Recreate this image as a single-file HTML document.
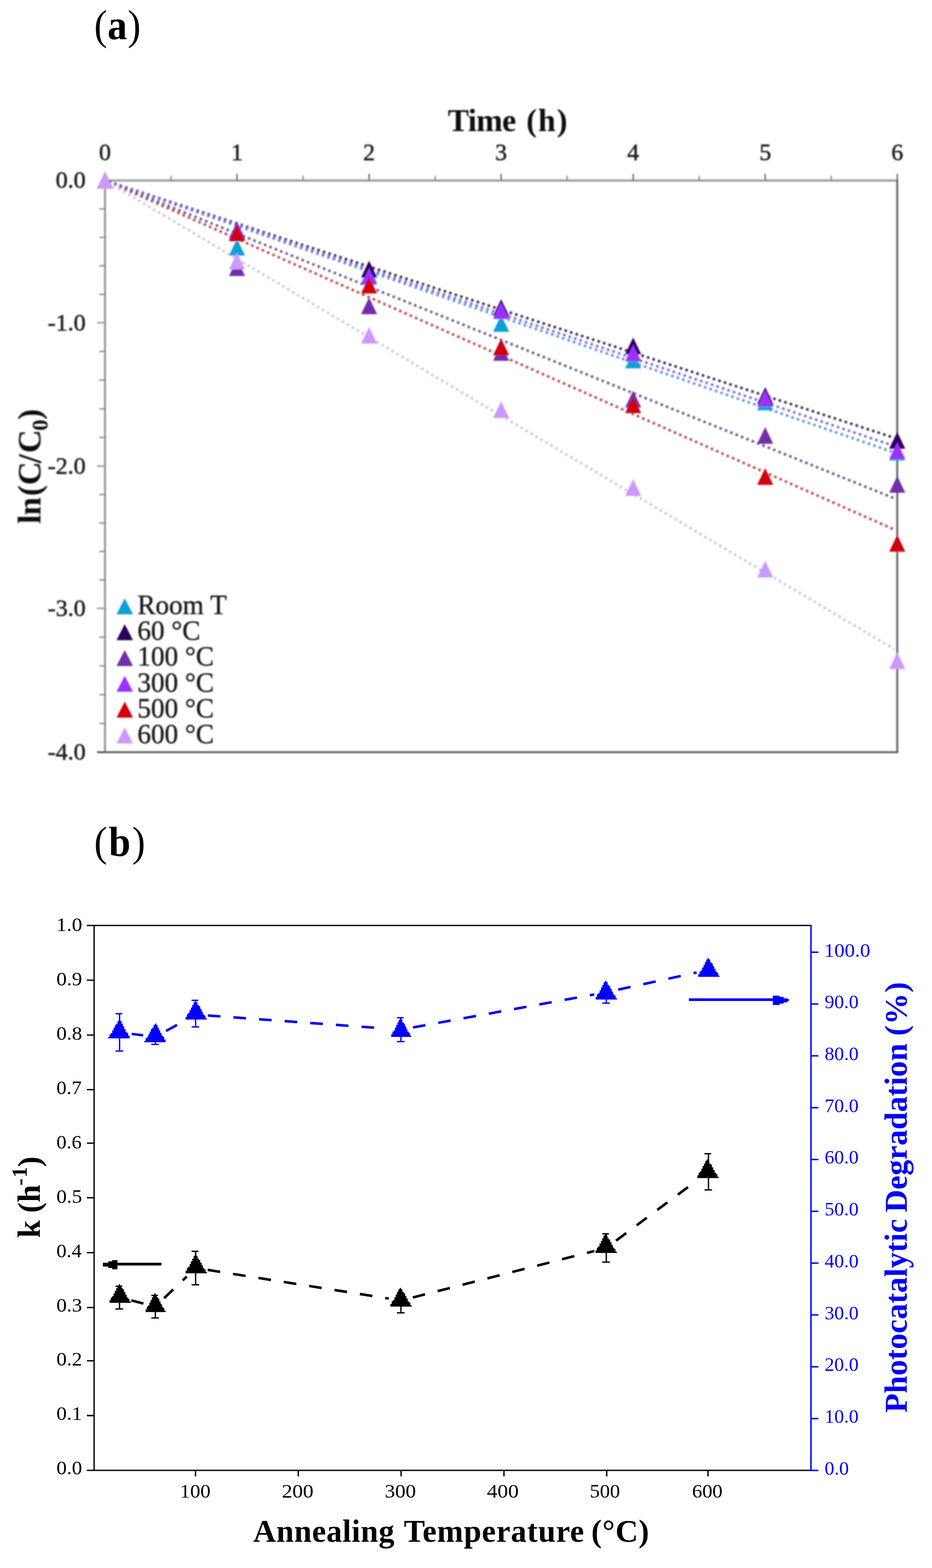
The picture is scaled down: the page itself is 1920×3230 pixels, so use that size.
<!DOCTYPE html>
<html lang="en">
<head>
<meta charset="utf-8">
<title>Figure: photocatalytic kinetics</title>
<style>
html,body{margin:0;padding:0;background:#fff}
body{width:1920px;height:3230px;overflow:hidden}
svg{display:block}
text{font-family:"Liberation Serif","DejaVu Serif",serif}
</style>
</head>
<body>
<svg width="1920" height="3230" viewBox="0 0 1920 3230" role="img" aria-label="Photocatalytic kinetics figure">
<defs>
<filter id="bl" x="0" y="0" width="1920" height="1660" filterUnits="userSpaceOnUse"><feGaussianBlur stdDeviation="1.8"/></filter>
</defs>
<rect x="0" y="0" width="1920" height="3230" fill="#fff"/>
<g id="chart-a" filter="url(#bl)">
<g fill="none">
<line x1="214.3" y1="371.9" x2="1850.4" y2="371.9" stroke="#a0a0a0" stroke-width="4.8"/>
<line x1="216.3" y1="371.7" x2="216.3" y2="1549.5" stroke="#8c8c8c" stroke-width="3.8"/>
<line x1="1848.4" y1="371.7" x2="1848.4" y2="1549.5" stroke="#616161" stroke-width="4"/>
<line x1="200" y1="1549.5" x2="1850.4" y2="1549.5" stroke="#474747" stroke-width="3.6"/>
<line x1="216.3" y1="358" x2="216.3" y2="371.7" stroke="#5c5c5c" stroke-width="2.6"/>
<line x1="352.31" y1="362" x2="352.31" y2="371.7" stroke="#6e6e6e" stroke-width="2.2"/>
<line x1="488.32" y1="358" x2="488.32" y2="371.7" stroke="#5c5c5c" stroke-width="2.6"/>
<line x1="624.33" y1="362" x2="624.33" y2="371.7" stroke="#6e6e6e" stroke-width="2.2"/>
<line x1="760.33" y1="358" x2="760.33" y2="371.7" stroke="#5c5c5c" stroke-width="2.6"/>
<line x1="896.34" y1="362" x2="896.34" y2="371.7" stroke="#6e6e6e" stroke-width="2.2"/>
<line x1="1032.35" y1="358" x2="1032.35" y2="371.7" stroke="#5c5c5c" stroke-width="2.6"/>
<line x1="1168.36" y1="362" x2="1168.36" y2="371.7" stroke="#6e6e6e" stroke-width="2.2"/>
<line x1="1304.37" y1="358" x2="1304.37" y2="371.7" stroke="#5c5c5c" stroke-width="2.6"/>
<line x1="1440.38" y1="362" x2="1440.38" y2="371.7" stroke="#6e6e6e" stroke-width="2.2"/>
<line x1="1576.38" y1="358" x2="1576.38" y2="371.7" stroke="#5c5c5c" stroke-width="2.6"/>
<line x1="1712.39" y1="362" x2="1712.39" y2="371.7" stroke="#6e6e6e" stroke-width="2.2"/>
<line x1="1848.4" y1="358" x2="1848.4" y2="371.7" stroke="#5c5c5c" stroke-width="2.6"/>
<line x1="204.5" y1="430.34" x2="216.3" y2="430.34" stroke="#808080" stroke-width="2.6"/>
<line x1="204.5" y1="488.98" x2="216.3" y2="488.98" stroke="#808080" stroke-width="2.6"/>
<line x1="204.5" y1="547.62" x2="216.3" y2="547.62" stroke="#808080" stroke-width="2.6"/>
<line x1="204.5" y1="606.26" x2="216.3" y2="606.26" stroke="#808080" stroke-width="2.6"/>
<line x1="200" y1="664.9" x2="216.3" y2="664.9" stroke="#999" stroke-width="3.2"/>
<line x1="204.5" y1="723.94" x2="216.3" y2="723.94" stroke="#808080" stroke-width="2.6"/>
<line x1="204.5" y1="782.98" x2="216.3" y2="782.98" stroke="#808080" stroke-width="2.6"/>
<line x1="204.5" y1="842.02" x2="216.3" y2="842.02" stroke="#808080" stroke-width="2.6"/>
<line x1="204.5" y1="901.06" x2="216.3" y2="901.06" stroke="#808080" stroke-width="2.6"/>
<line x1="200" y1="960.1" x2="216.3" y2="960.1" stroke="#999" stroke-width="3.2"/>
<line x1="204.5" y1="1018.72" x2="216.3" y2="1018.72" stroke="#808080" stroke-width="2.6"/>
<line x1="204.5" y1="1077.34" x2="216.3" y2="1077.34" stroke="#808080" stroke-width="2.6"/>
<line x1="204.5" y1="1135.96" x2="216.3" y2="1135.96" stroke="#808080" stroke-width="2.6"/>
<line x1="204.5" y1="1194.58" x2="216.3" y2="1194.58" stroke="#808080" stroke-width="2.6"/>
<line x1="200" y1="1253.2" x2="216.3" y2="1253.2" stroke="#999" stroke-width="3.2"/>
<line x1="204.5" y1="1312.46" x2="216.3" y2="1312.46" stroke="#808080" stroke-width="2.6"/>
<line x1="204.5" y1="1371.72" x2="216.3" y2="1371.72" stroke="#808080" stroke-width="2.6"/>
<line x1="204.5" y1="1430.98" x2="216.3" y2="1430.98" stroke="#808080" stroke-width="2.6"/>
<line x1="204.5" y1="1490.24" x2="216.3" y2="1490.24" stroke="#808080" stroke-width="2.6"/>
</g>
<line x1="216.3" y1="371.7" x2="1842" y2="932.01" stroke="#5a98dc" stroke-width="5.3" stroke-dasharray="5.3 6.6" stroke-dashoffset="-8" fill="none"/>
<line x1="216.3" y1="371.7" x2="1842" y2="901.74" stroke="#3a3248" stroke-width="5.3" stroke-dasharray="5.3 6.6" stroke-dashoffset="-8" fill="none"/>
<line x1="216.3" y1="371.7" x2="1842" y2="918.64" stroke="#8668e4" stroke-width="5.3" stroke-dasharray="5.3 6.6" stroke-dashoffset="-8" fill="none"/>
<line x1="216.3" y1="371.7" x2="1842" y2="1090.74" stroke="#c44a48" stroke-width="5.3" stroke-dasharray="5.3 6.6" stroke-dashoffset="-8" fill="none"/>
<line x1="216.3" y1="371.7" x2="1842" y2="1026.34" stroke="#6e5c92" stroke-width="5.3" stroke-dasharray="5.3 6.6" stroke-dashoffset="-8" fill="none"/>
<line x1="216.3" y1="371.7" x2="1842" y2="1337.11" stroke="#d0c6e8" stroke-width="5.3" stroke-dasharray="5.3 6.6" stroke-dashoffset="-8" fill="none"/>
<polygon points="216.3,354.45 232.8,388.95 199.8,388.95" fill="#0d9fd8"/>
<polygon points="488.32,491.96 504.82,526.46 471.82,526.46" fill="#0d9fd8"/>
<polygon points="760.33,548.79 776.83,583.29 743.83,583.29" fill="#0d9fd8"/>
<polygon points="1032.35,648.9 1048.85,683.4 1015.85,683.4" fill="#0d9fd8"/>
<polygon points="1304.37,724.28 1320.87,758.78 1287.87,758.78" fill="#0d9fd8"/>
<polygon points="1576.38,810.85 1592.88,845.35 1559.88,845.35" fill="#0d9fd8"/>
<polygon points="1848.4,913.9 1864.9,948.4 1831.9,948.4" fill="#0d9fd8"/>
<polygon points="216.3,354.45 232.8,388.95 199.8,388.95" fill="#2a005c"/>
<polygon points="488.32,456.92 504.82,491.42 471.82,491.42" fill="#2a005c"/>
<polygon points="760.33,537.01 776.83,571.51 743.83,571.51" fill="#2a005c"/>
<polygon points="1032.35,616.22 1048.85,650.72 1015.85,650.72" fill="#2a005c"/>
<polygon points="1304.37,695.13 1320.87,729.63 1287.87,729.63" fill="#2a005c"/>
<polygon points="1576.38,797.6 1592.88,832.1 1559.88,832.1" fill="#2a005c"/>
<polygon points="1848.4,889.76 1864.9,924.26 1831.9,924.26" fill="#2a005c"/>
<polygon points="216.3,354.45 232.8,388.95 199.8,388.95" fill="#6f2da8"/>
<polygon points="488.32,534.06 504.82,568.56 471.82,568.56" fill="#6f2da8"/>
<polygon points="760.33,612.68 776.83,647.18 743.83,647.18" fill="#6f2da8"/>
<polygon points="1032.35,708.67 1048.85,743.17 1015.85,743.17" fill="#6f2da8"/>
<polygon points="1304.37,804.96 1320.87,839.46 1287.87,839.46" fill="#6f2da8"/>
<polygon points="1576.38,879.75 1592.88,914.25 1559.88,914.25" fill="#6f2da8"/>
<polygon points="1848.4,980.45 1864.9,1014.95 1831.9,1014.95" fill="#6f2da8"/>
<polygon points="216.3,354.45 232.8,388.95 199.8,388.95" fill="#9a33ff"/>
<polygon points="488.32,458.98 504.82,493.48 471.82,493.48" fill="#9a33ff"/>
<polygon points="760.33,551.73 776.83,586.23 743.83,586.23" fill="#9a33ff"/>
<polygon points="1032.35,622.4 1048.85,656.9 1015.85,656.9" fill="#9a33ff"/>
<polygon points="1304.37,709.85 1320.87,744.35 1287.87,744.35" fill="#9a33ff"/>
<polygon points="1576.38,803.19 1592.88,837.69 1559.88,837.69" fill="#9a33ff"/>
<polygon points="1848.4,910.96 1864.9,945.46 1831.9,945.46" fill="#9a33ff"/>
<polygon points="216.3,354.45 232.8,388.95 199.8,388.95" fill="#d0000c"/>
<polygon points="488.32,462.51 504.82,497.01 471.82,497.01" fill="#d0000c"/>
<polygon points="760.33,569.99 776.83,604.49 743.83,604.49" fill="#d0000c"/>
<polygon points="1032.35,697.48 1048.85,731.98 1015.85,731.98" fill="#d0000c"/>
<polygon points="1304.37,816.44 1320.87,850.94 1287.87,850.94" fill="#d0000c"/>
<polygon points="1576.38,964.26 1592.88,998.76 1559.88,998.76" fill="#d0000c"/>
<polygon points="1848.4,1102.06 1864.9,1136.56 1831.9,1136.56" fill="#d0000c"/>
<polygon points="216.3,354.45 232.8,388.95 199.8,388.95" fill="#cc99ff"/>
<polygon points="488.32,520.52 504.82,555.02 471.82,555.02" fill="#cc99ff"/>
<polygon points="760.33,673.34 776.83,707.84 743.83,707.84" fill="#cc99ff"/>
<polygon points="1032.35,826.45 1048.85,860.95 1015.85,860.95" fill="#cc99ff"/>
<polygon points="1304.37,986.93 1320.87,1021.43 1287.87,1021.43" fill="#cc99ff"/>
<polygon points="1576.38,1155.06 1592.88,1189.56 1559.88,1189.56" fill="#cc99ff"/>
<polygon points="1848.4,1343.8 1864.9,1378.3 1831.9,1378.3" fill="#cc99ff"/>
<polygon points="257,1232.5 274,1265.5 240,1265.5" fill="#0d9fd8"/>
<text x="283" y="1265" font-size="56" fill="#161616" stroke="#161616" stroke-width="0.6">Room T</text>
<polygon points="257,1285.7 274,1318.7 240,1318.7" fill="#2a005c"/>
<text x="283" y="1318.2" font-size="56" fill="#161616" stroke="#161616" stroke-width="0.6">60 °C</text>
<polygon points="257,1338.9 274,1371.9 240,1371.9" fill="#6f2da8"/>
<text x="283" y="1371.4" font-size="56" fill="#161616" stroke="#161616" stroke-width="0.6">100 °C</text>
<polygon points="257,1392.1 274,1425.1 240,1425.1" fill="#9a33ff"/>
<text x="283" y="1424.6" font-size="56" fill="#161616" stroke="#161616" stroke-width="0.6">300 °C</text>
<polygon points="257,1445.3 274,1478.3 240,1478.3" fill="#d0000c"/>
<text x="283" y="1477.8" font-size="56" fill="#161616" stroke="#161616" stroke-width="0.6">500 °C</text>
<polygon points="257,1498.5 274,1531.5 240,1531.5" fill="#cc99ff"/>
<text x="283" y="1531" font-size="56" fill="#161616" stroke="#161616" stroke-width="0.6">600 °C</text>
<text x="216.3" y="329.8" font-size="49" text-anchor="middle" fill="#1e1e1e" stroke="#1e1e1e" stroke-width="0.9">0</text>
<text x="488.32" y="329.8" font-size="49" text-anchor="middle" fill="#1e1e1e" stroke="#1e1e1e" stroke-width="0.9">1</text>
<text x="760.33" y="329.8" font-size="49" text-anchor="middle" fill="#1e1e1e" stroke="#1e1e1e" stroke-width="0.9">2</text>
<text x="1032.35" y="329.8" font-size="49" text-anchor="middle" fill="#1e1e1e" stroke="#1e1e1e" stroke-width="0.9">3</text>
<text x="1304.37" y="329.8" font-size="49" text-anchor="middle" fill="#1e1e1e" stroke="#1e1e1e" stroke-width="0.9">4</text>
<text x="1576.38" y="329.8" font-size="49" text-anchor="middle" fill="#1e1e1e" stroke="#1e1e1e" stroke-width="0.9">5</text>
<text x="1848.4" y="329.8" font-size="49" text-anchor="middle" fill="#1e1e1e" stroke="#1e1e1e" stroke-width="0.9">6</text>
<text x="176.6" y="387.3" font-size="49.5" text-anchor="end" fill="#1e1e1e" stroke="#1e1e1e" stroke-width="0.9">0.0</text>
<text x="176.6" y="680.5" font-size="49.5" text-anchor="end" fill="#1e1e1e" stroke="#1e1e1e" stroke-width="0.9">-1.0</text>
<text x="176.6" y="975.7" font-size="49.5" text-anchor="end" fill="#1e1e1e" stroke="#1e1e1e" stroke-width="0.9">-2.0</text>
<text x="176.6" y="1268.8" font-size="49.5" text-anchor="end" fill="#1e1e1e" stroke="#1e1e1e" stroke-width="0.9">-3.0</text>
<text x="176.6" y="1565.1" font-size="49.5" text-anchor="end" fill="#1e1e1e" stroke="#1e1e1e" stroke-width="0.9">-4.0</text>
<text transform="translate(923.5 270)" font-size="65" font-weight="bold" fill="#111"><tspan x="-1" letter-spacing="-0.8">Time</tspan> <tspan x="160.8" letter-spacing="2.55">(h)</tspan></text>
<text transform="translate(83.3 1078) rotate(-90)" font-size="67" font-weight="bold" fill="#111"><tspan x="-1" letter-spacing="-1">ln</tspan><tspan x="56.2">(</tspan><tspan x="78.7">C</tspan><tspan x="123.7">/</tspan><tspan x="144.65">C</tspan><tspan x="190.85" font-size="46" dy="14.5">0</tspan><tspan x="213.25" dy="-14.5">)</tspan></text>
</g>
<text transform="translate(197.6 80.9) scale(0.9300 1)" font-size="87" fill="#000"><tspan x="-3.92">(</tspan><tspan x="25.78" font-weight="bold">a</tspan><tspan x="70.41">)</tspan></text>
<text transform="translate(198 1763.3) scale(0.9300 1)" font-size="87" fill="#000"><tspan x="-4.35">(</tspan><tspan x="27.86" font-weight="bold">b</tspan><tspan x="79.92">)</tspan></text>
<g id="chart-b">
<g stroke="#000" stroke-width="2.8" fill="none">
<path d="M179 1906.4H1670.7"/>
<path d="M193.9 1906.4V3028.9"/>
<path d="M179 3028.9H1670.7"/>
<path d="M179 2916H193.9M179 2803.2H193.9M179 2693.3H193.9M179 2580.4H193.9M179 2467.4H193.9M179 2354.8H193.9M179 2244.7H193.9M179 2132.05H193.9M179 2019.1H193.9M402.8 3028.9V3041.2M614.5 3028.9V3041.2M826.3 3028.9V3041.2M1038.2 3028.9V3041.2M1249.9 3028.9V3041.2M1458.6 3028.9V3041.2"/>
</g>
<g stroke="#0000ff" stroke-width="3" fill="none">
<path d="M1670.7 1905V3030.3M1670.7 3028.9H1686M1670.7 2922.16H1686M1670.7 2815.42H1686M1670.7 2708.68H1686M1670.7 2601.94H1686M1670.7 2495.2H1686M1670.7 2388.46H1686M1670.7 2281.72H1686M1670.7 2174.98H1686M1670.7 2068.24H1686M1670.7 1961.5H1686"/>
</g>
<path d="M271.29 2129.72L294.91 2132.77" stroke="#0000ff" stroke-width="5.2" fill="none"/>
<path d="M342.04 2123.78L364.78 2111.18" stroke="#0000ff" stroke-width="5.2" fill="none"/>
<path d="M428.13 2091.84L454.06 2093.74M480.89 2095.71L506.82 2097.61M533.65 2099.57L559.58 2101.48M586.41 2103.44L612.34 2105.34M639.17 2107.31L665.1 2109.21M691.93 2111.17L717.86 2113.07M744.68 2115.04L770.61 2116.94" stroke="#0000ff" stroke-width="5.2" fill="none"/>
<path d="M850.79 2116.49L876.37 2111.83M902.84 2107.01L928.42 2102.36M954.88 2097.54L980.46 2092.88M1006.93 2088.07L1032.51 2083.41M1058.97 2078.59L1084.55 2073.94M1111.02 2069.12L1136.6 2064.46M1163.06 2059.64L1188.64 2054.99M1215.11 2050.17L1224.11 2048.53" stroke="#0000ff" stroke-width="5.2" fill="none"/>
<path d="M1273.62 2038.63L1299.02 2033.08M1325.3 2027.35L1350.71 2021.81M1376.99 2016.07L1402.39 2010.53M1428.67 2004.79L1435.08 2003.39" stroke="#0000ff" stroke-width="5.2" fill="none"/>
<path d="M246.3 2088.2V2165M238 2088.2H251.9M238 2165H253.7" stroke="#0000ff" stroke-width="2.75" fill="none"/>
<polygon points="247.64,2100.5 247.64,2103.24 250.39,2103.24 250.39,2105.99 250.39,2105.99 250.39,2108.73 253.13,2108.73 253.13,2111.47 253.13,2111.47 253.13,2114.21 255.87,2114.21 255.87,2116.96 255.87,2116.96 255.87,2119.7 258.61,2119.7 258.61,2122.44 258.61,2122.44 258.61,2125.19 261.36,2125.19 261.36,2127.93 264.1,2127.93 264.1,2130.67 264.1,2130.67 264.1,2133.41 266.84,2133.41 266.84,2136.16 266.84,2136.16 266.84,2138.9 222.96,2138.9 222.96,2136.16 225.7,2136.16 225.7,2133.41 225.7,2133.41 225.7,2130.67 228.44,2130.67 228.44,2127.93 231.19,2127.93 231.19,2125.19 231.19,2125.19 231.19,2122.44 233.93,2122.44 233.93,2119.7 233.93,2119.7 233.93,2116.96 236.67,2116.96 236.67,2114.21 236.67,2114.21 236.67,2111.47 239.41,2111.47 239.41,2108.73 242.16,2108.73 242.16,2105.99 242.16,2105.99 242.16,2103.24 244.9,2103.24 244.9,2100.5" fill="#0000ff"/>
<path d="M320 2127V2151.4M311.7 2151.4H327.4" stroke="#0000ff" stroke-width="2.75" fill="none"/>
<polygon points="321.89,2108.6 321.89,2111.34 324.64,2111.34 324.64,2114.09 324.64,2114.09 324.64,2116.83 327.38,2116.83 327.38,2119.57 327.38,2119.57 327.38,2122.31 330.12,2122.31 330.12,2125.06 330.12,2125.06 330.12,2127.8 332.86,2127.8 332.86,2130.54 332.86,2130.54 332.86,2133.29 335.61,2133.29 335.61,2136.03 338.35,2136.03 338.35,2138.77 338.35,2138.77 338.35,2141.51 341.09,2141.51 341.09,2144.26 341.09,2144.26 341.09,2147 297.21,2147 297.21,2144.26 299.95,2144.26 299.95,2141.51 299.95,2141.51 299.95,2138.77 302.69,2138.77 302.69,2136.03 305.44,2136.03 305.44,2133.29 305.44,2133.29 305.44,2130.54 308.18,2130.54 308.18,2127.8 308.18,2127.8 308.18,2125.06 310.92,2125.06 310.92,2122.31 310.92,2122.31 310.92,2119.57 313.66,2119.57 313.66,2116.83 316.41,2116.83 316.41,2114.09 316.41,2114.09 316.41,2111.34 319.15,2111.34 319.15,2108.6" fill="#0000ff"/>
<path d="M403 2060.6V2115.4M394.7 2060.6H408.6M394.7 2115.4H410.4" stroke="#0000ff" stroke-width="2.75" fill="none"/>
<polygon points="404.15,2061.9 404.15,2064.64 406.89,2064.64 406.89,2067.39 406.89,2067.39 406.89,2070.13 409.64,2070.13 409.64,2072.87 412.38,2072.87 412.38,2075.61 412.38,2075.61 412.38,2078.36 415.12,2078.36 415.12,2081.1 415.12,2081.1 415.12,2083.84 417.86,2083.84 417.86,2086.59 417.86,2086.59 417.86,2089.33 420.61,2089.33 420.61,2092.07 423.35,2092.07 423.35,2094.81 423.35,2094.81 423.35,2097.56 426.09,2097.56 426.09,2100.3 382.21,2100.3 382.21,2097.56 382.21,2097.56 382.21,2094.81 384.95,2094.81 384.95,2092.07 384.95,2092.07 384.95,2089.33 387.69,2089.33 387.69,2086.59 390.44,2086.59 390.44,2083.84 390.44,2083.84 390.44,2081.1 393.18,2081.1 393.18,2078.36 393.18,2078.36 393.18,2075.61 395.92,2075.61 395.92,2072.87 395.92,2072.87 395.92,2070.13 398.66,2070.13 398.66,2067.39 398.66,2067.39 398.66,2064.64 401.41,2064.64 401.41,2061.9" fill="#0000ff"/>
<path d="M826 2096.4V2145.7M817.7 2096.4H831.6M817.7 2145.7H833.4" stroke="#0000ff" stroke-width="2.75" fill="none"/>
<polygon points="826.5,2097.7 826.5,2100.44 829.08,2100.44 829.08,2103.19 829.08,2103.19 829.08,2105.93 831.66,2105.93 831.66,2108.67 834.23,2108.67 834.23,2111.41 834.23,2111.41 834.23,2114.16 836.81,2114.16 836.81,2116.9 836.81,2116.9 836.81,2119.64 839.39,2119.64 839.39,2122.39 839.39,2122.39 839.39,2125.13 841.97,2125.13 841.97,2127.87 844.55,2127.87 844.55,2130.61 844.55,2130.61 844.55,2133.36 847.13,2133.36 847.13,2136.1 805.87,2136.1 805.87,2133.36 805.87,2133.36 805.87,2130.61 808.45,2130.61 808.45,2127.87 808.45,2127.87 808.45,2125.13 811.03,2125.13 811.03,2122.39 813.61,2122.39 813.61,2119.64 813.61,2119.64 813.61,2116.9 816.19,2116.9 816.19,2114.16 816.19,2114.16 816.19,2111.41 818.77,2111.41 818.77,2108.67 818.77,2108.67 818.77,2105.93 821.34,2105.93 821.34,2103.19 821.34,2103.19 821.34,2100.44 823.92,2100.44 823.92,2097.7" fill="#0000ff"/>
<path d="M1249 2039V2066.3M1240.7 2066.3H1256.4" stroke="#0000ff" stroke-width="2.75" fill="none"/>
<polygon points="1249.1,2020.6 1249.1,2023.34 1251.84,2023.34 1251.84,2026.09 1251.84,2026.09 1251.84,2028.83 1254.59,2028.83 1254.59,2031.57 1257.33,2031.57 1257.33,2034.31 1257.33,2034.31 1257.33,2037.06 1260.07,2037.06 1260.07,2039.8 1260.07,2039.8 1260.07,2042.54 1262.81,2042.54 1262.81,2045.29 1262.81,2045.29 1262.81,2048.03 1265.56,2048.03 1265.56,2050.77 1268.3,2050.77 1268.3,2053.51 1268.3,2053.51 1268.3,2056.26 1271.04,2056.26 1271.04,2059 1227.16,2059 1227.16,2056.26 1227.16,2056.26 1227.16,2053.51 1229.9,2053.51 1229.9,2050.77 1229.9,2050.77 1229.9,2048.03 1232.64,2048.03 1232.64,2045.29 1235.39,2045.29 1235.39,2042.54 1235.39,2042.54 1235.39,2039.8 1238.13,2039.8 1238.13,2037.06 1238.13,2037.06 1238.13,2034.31 1240.87,2034.31 1240.87,2031.57 1240.87,2031.57 1240.87,2028.83 1243.61,2028.83 1243.61,2026.09 1243.61,2026.09 1243.61,2023.34 1246.36,2023.34 1246.36,2020.6" fill="#0000ff"/>
<polygon points="1460.3,1973.8 1460.3,1976.54 1463.04,1976.54 1463.04,1979.29 1463.04,1979.29 1463.04,1982.03 1465.79,1982.03 1465.79,1984.77 1468.53,1984.77 1468.53,1987.51 1468.53,1987.51 1468.53,1990.26 1471.27,1990.26 1471.27,1993 1471.27,1993 1471.27,1995.74 1474.01,1995.74 1474.01,1998.49 1474.01,1998.49 1474.01,2001.23 1476.76,2001.23 1476.76,2003.97 1479.5,2003.97 1479.5,2006.71 1479.5,2006.71 1479.5,2009.46 1482.24,2009.46 1482.24,2012.2 1438.36,2012.2 1438.36,2009.46 1438.36,2009.46 1438.36,2006.71 1441.1,2006.71 1441.1,2003.97 1441.1,2003.97 1441.1,2001.23 1443.84,2001.23 1443.84,1998.49 1446.59,1998.49 1446.59,1995.74 1446.59,1995.74 1446.59,1993 1449.33,1993 1449.33,1990.26 1449.33,1990.26 1449.33,1987.51 1452.07,1987.51 1452.07,1984.77 1452.07,1984.77 1452.07,1982.03 1454.81,1982.03 1454.81,1979.29 1454.81,1979.29 1454.81,1976.54 1457.56,1976.54 1457.56,1973.8" fill="#0000ff"/>
<path d="M270.58 2678.68L295.52 2685.2" stroke="#000" stroke-width="5.2" fill="none"/>
<path d="M338.19 2674.16L356.95 2656.16M376.37 2637.54L384.74 2629.51" stroke="#000" stroke-width="5.2" fill="none"/>
<path d="M427.89 2615.94L453.57 2620.01M480.14 2624.22L505.82 2628.29M532.39 2632.49L558.07 2636.56M584.64 2640.77L610.32 2644.84M636.88 2649.05L662.56 2653.11M689.13 2657.32L714.81 2661.39M741.38 2665.6L767.06 2669.66M793.63 2673.87L801.01 2675.04" stroke="#000" stroke-width="5.2" fill="none"/>
<path d="M850.41 2672.75L875.6 2666.3M901.66 2659.63L926.85 2653.18M952.91 2646.51L978.09 2640.06M1004.15 2633.39L1029.34 2626.94M1055.4 2620.27L1080.59 2613.82M1106.65 2607.15L1131.84 2600.7M1157.89 2594.03L1183.08 2587.58M1209.14 2580.9L1224.49 2576.98" stroke="#000" stroke-width="5.2" fill="none"/>
<path d="M1269.21 2555.65L1290.06 2540.11M1311.63 2524.04L1332.48 2508.51M1354.06 2492.44L1374.91 2476.91M1396.48 2460.84L1417.33 2445.31" stroke="#000" stroke-width="5.2" fill="none"/>
<path d="M246.2 2649.5V2696.3M237.9 2649.5H251.8M237.9 2696.3H253.6" stroke="#000" stroke-width="2.75" fill="none"/>
<polygon points="247.5,2645.3 247.5,2648.04 250.24,2648.04 250.24,2650.79 250.24,2650.79 250.24,2653.53 252.99,2653.53 252.99,2656.27 255.73,2656.27 255.73,2659.01 255.73,2659.01 255.73,2661.76 258.47,2661.76 258.47,2664.5 258.47,2664.5 258.47,2667.24 261.21,2667.24 261.21,2669.99 261.21,2669.99 261.21,2672.73 263.96,2672.73 263.96,2675.47 266.7,2675.47 266.7,2678.21 266.7,2678.21 266.7,2680.96 269.44,2680.96 269.44,2683.7 225.56,2683.7 225.56,2680.96 225.56,2680.96 225.56,2678.21 228.3,2678.21 228.3,2675.47 228.3,2675.47 228.3,2672.73 231.04,2672.73 231.04,2669.99 233.79,2669.99 233.79,2667.24 233.79,2667.24 233.79,2664.5 236.53,2664.5 236.53,2661.76 236.53,2661.76 236.53,2659.01 239.27,2659.01 239.27,2656.27 239.27,2656.27 239.27,2653.53 242.01,2653.53 242.01,2650.79 242.01,2650.79 242.01,2648.04 244.76,2648.04 244.76,2645.3" fill="#000"/>
<path d="M320 2668.4V2714.9M311.7 2668.4H325.6M311.7 2714.9H327.4" stroke="#000" stroke-width="2.75" fill="none"/>
<polygon points="320.5,2664.3 320.5,2667.04 323.08,2667.04 323.08,2669.79 323.08,2669.79 323.08,2672.53 325.66,2672.53 325.66,2675.27 328.23,2675.27 328.23,2678.01 328.23,2678.01 328.23,2680.76 330.81,2680.76 330.81,2683.5 330.81,2683.5 330.81,2686.24 333.39,2686.24 333.39,2688.99 333.39,2688.99 333.39,2691.73 335.97,2691.73 335.97,2694.47 338.55,2694.47 338.55,2697.21 338.55,2697.21 338.55,2699.96 341.13,2699.96 341.13,2702.7 299.87,2702.7 299.87,2699.96 299.87,2699.96 299.87,2697.21 302.45,2697.21 302.45,2694.47 302.45,2694.47 302.45,2691.73 305.03,2691.73 305.03,2688.99 307.61,2688.99 307.61,2686.24 307.61,2686.24 307.61,2683.5 310.19,2683.5 310.19,2680.76 310.19,2680.76 310.19,2678.01 312.77,2678.01 312.77,2675.27 312.77,2675.27 312.77,2672.53 315.34,2672.53 315.34,2669.79 315.34,2669.79 315.34,2667.04 317.92,2667.04 317.92,2664.3" fill="#000"/>
<path d="M403 2577.6V2646.5M394.7 2577.6H408.6M394.7 2646.5H410.4" stroke="#000" stroke-width="2.75" fill="none"/>
<polygon points="404.3,2584.5 404.3,2587.24 407.04,2587.24 407.04,2589.99 407.04,2589.99 407.04,2592.73 409.79,2592.73 409.79,2595.47 412.53,2595.47 412.53,2598.21 412.53,2598.21 412.53,2600.96 415.27,2600.96 415.27,2603.7 415.27,2603.7 415.27,2606.44 418.01,2606.44 418.01,2609.19 418.01,2609.19 418.01,2611.93 420.76,2611.93 420.76,2614.67 423.5,2614.67 423.5,2617.41 423.5,2617.41 423.5,2620.16 426.24,2620.16 426.24,2622.9 382.36,2622.9 382.36,2620.16 382.36,2620.16 382.36,2617.41 385.1,2617.41 385.1,2614.67 385.1,2614.67 385.1,2611.93 387.84,2611.93 387.84,2609.19 390.59,2609.19 390.59,2606.44 390.59,2606.44 390.59,2603.7 393.33,2603.7 393.33,2600.96 393.33,2600.96 393.33,2598.21 396.07,2598.21 396.07,2595.47 396.07,2595.47 396.07,2592.73 398.81,2592.73 398.81,2589.99 398.81,2589.99 398.81,2587.24 401.56,2587.24 401.56,2584.5" fill="#000"/>
<path d="M826 2671.5V2704.4M817.7 2704.4H833.4" stroke="#000" stroke-width="2.75" fill="none"/>
<polygon points="826.2,2653.1 826.2,2655.84 828.94,2655.84 828.94,2658.59 828.94,2658.59 828.94,2661.33 831.69,2661.33 831.69,2664.07 834.43,2664.07 834.43,2666.81 834.43,2666.81 834.43,2669.56 837.17,2669.56 837.17,2672.3 837.17,2672.3 837.17,2675.04 839.91,2675.04 839.91,2677.79 839.91,2677.79 839.91,2680.53 842.66,2680.53 842.66,2683.27 845.4,2683.27 845.4,2686.01 845.4,2686.01 845.4,2688.76 848.14,2688.76 848.14,2691.5 804.26,2691.5 804.26,2688.76 804.26,2688.76 804.26,2686.01 807,2686.01 807,2683.27 807,2683.27 807,2680.53 809.74,2680.53 809.74,2677.79 812.49,2677.79 812.49,2675.04 812.49,2675.04 812.49,2672.3 815.23,2672.3 815.23,2669.56 815.23,2669.56 815.23,2666.81 817.97,2666.81 817.97,2664.07 817.97,2664.07 817.97,2661.33 820.71,2661.33 820.71,2658.59 820.71,2658.59 820.71,2655.84 823.46,2655.84 823.46,2653.1" fill="#000"/>
<path d="M1249 2541.6V2599.8M1240.7 2541.6H1254.6M1240.7 2599.8H1256.4" stroke="#000" stroke-width="2.75" fill="none"/>
<polygon points="1248.8,2542.6 1248.8,2545.34 1251.54,2545.34 1251.54,2548.09 1251.54,2548.09 1251.54,2550.83 1254.29,2550.83 1254.29,2553.57 1257.03,2553.57 1257.03,2556.31 1257.03,2556.31 1257.03,2559.06 1259.77,2559.06 1259.77,2561.8 1259.77,2561.8 1259.77,2564.54 1262.51,2564.54 1262.51,2567.29 1262.51,2567.29 1262.51,2570.03 1265.26,2570.03 1265.26,2572.77 1268,2572.77 1268,2575.51 1268,2575.51 1268,2578.26 1270.74,2578.26 1270.74,2581 1226.86,2581 1226.86,2578.26 1226.86,2578.26 1226.86,2575.51 1229.6,2575.51 1229.6,2572.77 1229.6,2572.77 1229.6,2570.03 1232.34,2570.03 1232.34,2567.29 1235.09,2567.29 1235.09,2564.54 1235.09,2564.54 1235.09,2561.8 1237.83,2561.8 1237.83,2559.06 1237.83,2559.06 1237.83,2556.31 1240.57,2556.31 1240.57,2553.57 1240.57,2553.57 1240.57,2550.83 1243.31,2550.83 1243.31,2548.09 1243.31,2548.09 1243.31,2545.34 1246.06,2545.34 1246.06,2542.6" fill="#000"/>
<path d="M1459.5 2376.7V2451M1451.2 2376.7H1465.1M1451.2 2451H1466.9" stroke="#000" stroke-width="2.75" fill="none"/>
<polygon points="1458.5,2388.4 1458.5,2391.14 1461.24,2391.14 1461.24,2393.89 1461.24,2393.89 1461.24,2396.63 1463.99,2396.63 1463.99,2399.37 1466.73,2399.37 1466.73,2402.11 1466.73,2402.11 1466.73,2404.86 1469.47,2404.86 1469.47,2407.6 1469.47,2407.6 1469.47,2410.34 1472.21,2410.34 1472.21,2413.09 1472.21,2413.09 1472.21,2415.83 1474.96,2415.83 1474.96,2418.57 1477.7,2418.57 1477.7,2421.31 1477.7,2421.31 1477.7,2424.06 1480.44,2424.06 1480.44,2426.8 1436.56,2426.8 1436.56,2424.06 1436.56,2424.06 1436.56,2421.31 1439.3,2421.31 1439.3,2418.57 1439.3,2418.57 1439.3,2415.83 1442.04,2415.83 1442.04,2413.09 1444.79,2413.09 1444.79,2410.34 1444.79,2410.34 1444.79,2407.6 1447.53,2407.6 1447.53,2404.86 1447.53,2404.86 1447.53,2402.11 1450.27,2402.11 1450.27,2399.37 1450.27,2399.37 1450.27,2396.63 1453.01,2396.63 1453.01,2393.89 1453.01,2393.89 1453.01,2391.14 1455.76,2391.14 1455.76,2388.4" fill="#000"/>
<path d="M1419.2 2059.3H1594" stroke="#0000ff" stroke-width="5.5" fill="none"/>
<polygon points="1592,2051 1606.2,2051 1606.2,2053.6 1614.3,2053.6 1614.3,2056.6 1622.4,2056.6 1622.4,2058 1625.4,2058 1625.4,2062 1622.4,2062 1622.4,2064.8 1614.3,2064.8 1614.3,2067.5 1606.2,2067.5 1606.2,2070.2 1592,2070.2" fill="#0000ff"/>
<path d="M332.6 2603.95H240" stroke="#000" stroke-width="5.5" fill="none"/>
<polygon points="241.9,2595.8 231.1,2595.8 231.1,2598.3 223.1,2598.3 223.1,2601.2 211.9,2601.2 211.9,2609.1 223.1,2609.1 223.1,2611.9 231.1,2611.9 231.1,2614.7 241.9,2614.7" fill="#000"/>
</g>
<text transform="translate(116.28 3037.2) scale(1.0609 1)" font-size="40" fill="#000">0.0</text>
<text transform="translate(116.28 2925.3) scale(1.0609 1)" font-size="40" fill="#000">0.1</text>
<text transform="translate(116.28 2813.4) scale(1.0609 1)" font-size="40" fill="#000">0.2</text>
<text transform="translate(116.28 2701.5) scale(1.0609 1)" font-size="40" fill="#000">0.3</text>
<text transform="translate(116.32 2589.6) scale(1.0383 1)" font-size="40" fill="#000">0.4</text>
<text transform="translate(116.28 2477.7) scale(1.0609 1)" font-size="40" fill="#000">0.5</text>
<text transform="translate(116.32 2365.8) scale(1.0383 1)" font-size="40" fill="#000">0.6</text>
<text transform="translate(116.32 2253.9) scale(1.0383 1)" font-size="40" fill="#000">0.7</text>
<text transform="translate(116.28 2142) scale(1.0609 1)" font-size="40" fill="#000">0.8</text>
<text transform="translate(116.28 2030.1) scale(1.0609 1)" font-size="40" fill="#000">0.9</text>
<text transform="translate(115.93 1918.2) scale(1.0682 1)" font-size="40" fill="#000">1.0</text>
<text transform="translate(370.81 3085) scale(1.0463 1)" font-size="40" fill="#000">100</text>
<text transform="translate(580.42 3085) scale(1.0911 1)" font-size="40" fill="#000">200</text>
<text transform="translate(792.55 3085) scale(1.0732 1)" font-size="40" fill="#000">300</text>
<text transform="translate(1002.9 3085) scale(1.0965 1)" font-size="40" fill="#000">400</text>
<text transform="translate(1214.92 3085) scale(1.0393 1)" font-size="40" fill="#000">500</text>
<text transform="translate(1425.7 3085) scale(1.0482 1)" font-size="40" fill="#000">600</text>
<text x="1698.8" y="3037.9" font-size="40" fill="#0000ff">0.0</text>
<text x="1698.8" y="2931.16" font-size="40" fill="#0000ff">10.0</text>
<text x="1698.8" y="2824.42" font-size="40" fill="#0000ff">20.0</text>
<text x="1698.8" y="2717.68" font-size="40" fill="#0000ff">30.0</text>
<text x="1698.8" y="2610.94" font-size="40" fill="#0000ff">40.0</text>
<text x="1698.8" y="2504.2" font-size="40" fill="#0000ff">50.0</text>
<text x="1698.8" y="2397.46" font-size="40" fill="#0000ff">60.0</text>
<text x="1698.8" y="2290.72" font-size="40" fill="#0000ff">70.0</text>
<text x="1698.8" y="2183.98" font-size="40" fill="#0000ff">80.0</text>
<text x="1698.8" y="2077.24" font-size="40" fill="#0000ff">90.0</text>
<text transform="translate(1697.67 1970.5) scale(1.0583 1)" font-size="40" fill="#0000ff">100.0</text>
<text transform="translate(522.5 3176.3)" font-size="65" font-weight="bold" fill="#000"><tspan x="-1" letter-spacing="0.69">Annealing</tspan> <tspan x="309.5" letter-spacing="1">Temperature</tspan> <tspan x="695.5" letter-spacing="1">(°C)</tspan></text>
<text transform="translate(82.2 2548.2) rotate(-90)" font-size="65" font-weight="bold" fill="#000"><tspan x="-1.85">k</tspan> <tspan x="49.8">(</tspan><tspan x="71.45">h</tspan><tspan x="106.05" font-size="44" dy="-27.6">-</tspan><tspan x="122.45" font-size="44">1</tspan><tspan x="144.45" dy="27.6">)</tspan></text>
<text transform="translate(1868 2909) rotate(-90)" font-size="65" font-weight="bold" fill="#0000ff"><tspan x="-1" letter-spacing="0.16">Photocatalytic</tspan> <tspan x="411.5" letter-spacing="0.15">Degradation</tspan> <tspan x="775.2" letter-spacing="1.3">(%)</tspan></text>
</svg>
</body>
</html>
